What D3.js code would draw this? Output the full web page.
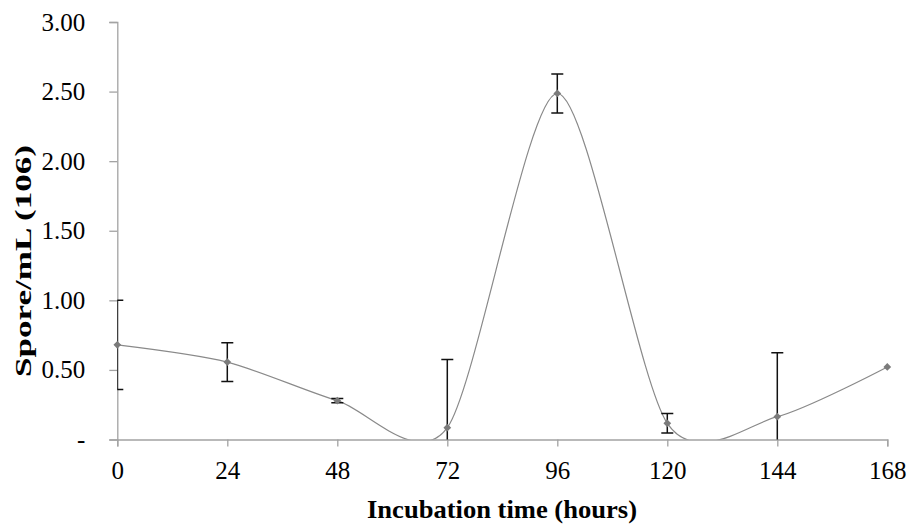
<!DOCTYPE html>
<html>
<head>
<meta charset="utf-8">
<script src="https://cdn.jsdelivr.net/npm/d3@7"></script>
<style>
    body { margin: 0; background: #ffffff; }
    svg { display: block; }
</style>
</head>
<body>
<svg id="chart" width="909" height="524"></svg>
<script>
// values (x = hours, y = spores/mL x10^6)
const hours = [0, 24, 48, 72, 96, 120, 144, 168];
const spores = [0.68, 0.556, 0.279, 0.085, 2.487, 0.116, 0.164, 0.521];
const errors = [0.32, 0.14, 0.015, 0.49, 0.14, 0.07, 0.46, 0];
const xTicks = [0, 24, 48, 72, 96, 120, 144, 168];
const yTicks = [0, 0.5, 1, 1.5, 2, 2.5, 3];

const serif = "'Liberation Serif', 'Times New Roman', Times, serif";

const svg = d3.select("#chart");

const x = d3.scaleLinear().domain([0, 168]).range([117.3, 887.3]);
const y = d3.scaleLinear().domain([0, 3]).range([439.5, 22]);

const points = hours.map((h, i) => ({ h: h, v: spores[i], e: errors[i] }));

// clip everything to the plot area so the smooth line stops at zero
svg.append("clipPath")
    .attr("id", "plot-clip")
    .append("rect")
    .attr("x", x(0))
    .attr("y", y(3))
    .attr("width", x(168) - x(0))
    .attr("height", y(0) - y(3));

// axes
const yAxis = svg.append("g")
    .attr("transform", `translate(${x(0)},0)`)
    .call(d3.axisLeft(y)
        .tickValues(yTicks)
        .tickSize(8)
        .tickPadding(24)
        .tickFormat(d => d === 0 ? "-" : d3.format(".2f")(d)));

const xAxis = svg.append("g")
    .attr("transform", `translate(0,${y(0)})`)
    .call(d3.axisBottom(x)
        .tickValues(xTicks)
        .tickSize(7)
        .tickPadding(15)
        .tickFormat(d3.format("d")));

[yAxis, xAxis].forEach(g => {
    g.attr("font-family", serif).attr("font-size", 25);
    g.selectAll("text").attr("fill", "#000");
    g.selectAll("path, line")
        .attr("stroke", "#a3a3a3")
        .attr("stroke-width", 1.3);
});

const plot = svg.append("g").attr("clip-path", "url(#plot-clip)");

// smoothed line like excel's
const line = d3.line()
    .x(d => x(d.h))
    .y(d => y(d.v))
    .curve(d3.curveCardinal.tension(0.2));

plot.append("path")
    .datum(points)
    .attr("fill", "none")
    .attr("stroke", "#8a8a8a")
    .attr("stroke-width", 1.2)
    .attr("d", line);

// error bars
const bars = plot.selectAll("g.err")
    .data(points.filter(d => d.e > 0))
    .join("g")
    .attr("class", "err")
    .attr("stroke", "#111")
    .attr("stroke-width", 1.5);

bars.append("line")
    .attr("x1", d => x(d.h))
    .attr("x2", d => x(d.h))
    .attr("y1", d => y(d.v + d.e))
    .attr("y2", d => y(d.v - d.e));

bars.append("line")
    .attr("x1", d => x(d.h) - 6)
    .attr("x2", d => x(d.h) + 6)
    .attr("y1", d => y(d.v + d.e))
    .attr("y2", d => y(d.v + d.e));

bars.append("line")
    .attr("x1", d => x(d.h) - 6)
    .attr("x2", d => x(d.h) + 6)
    .attr("y1", d => y(d.v - d.e))
    .attr("y2", d => y(d.v - d.e));

// diamond markers
svg.selectAll("path.marker")
    .data(points)
    .join("path")
    .attr("class", "marker")
    .attr("d", d3.symbol().type(d3.symbolSquare).size(30))
    .attr("transform", d => `translate(${x(d.h)},${y(d.v)}) rotate(45)`)
    .attr("fill", "#7b7b7b");

// axis titles
svg.append("text")
    .attr("x", 502)
    .attr("y", 518)
    .attr("text-anchor", "middle")
    .attr("font-family", serif)
    .attr("font-weight", "bold")
    .attr("font-size", 26)
    .attr("textLength", 270)
    .attr("lengthAdjust", "spacingAndGlyphs")
    .text("Incubation time (hours)");

svg.append("text")
    .attr("transform", "translate(31,261) rotate(-90)")
    .attr("text-anchor", "middle")
    .attr("font-family", serif)
    .attr("font-weight", "bold")
    .attr("font-size", 24)
    .attr("textLength", 232)
    .attr("lengthAdjust", "spacingAndGlyphs")
    .text("Spore/mL (106)");
</script>
</body>
</html>
